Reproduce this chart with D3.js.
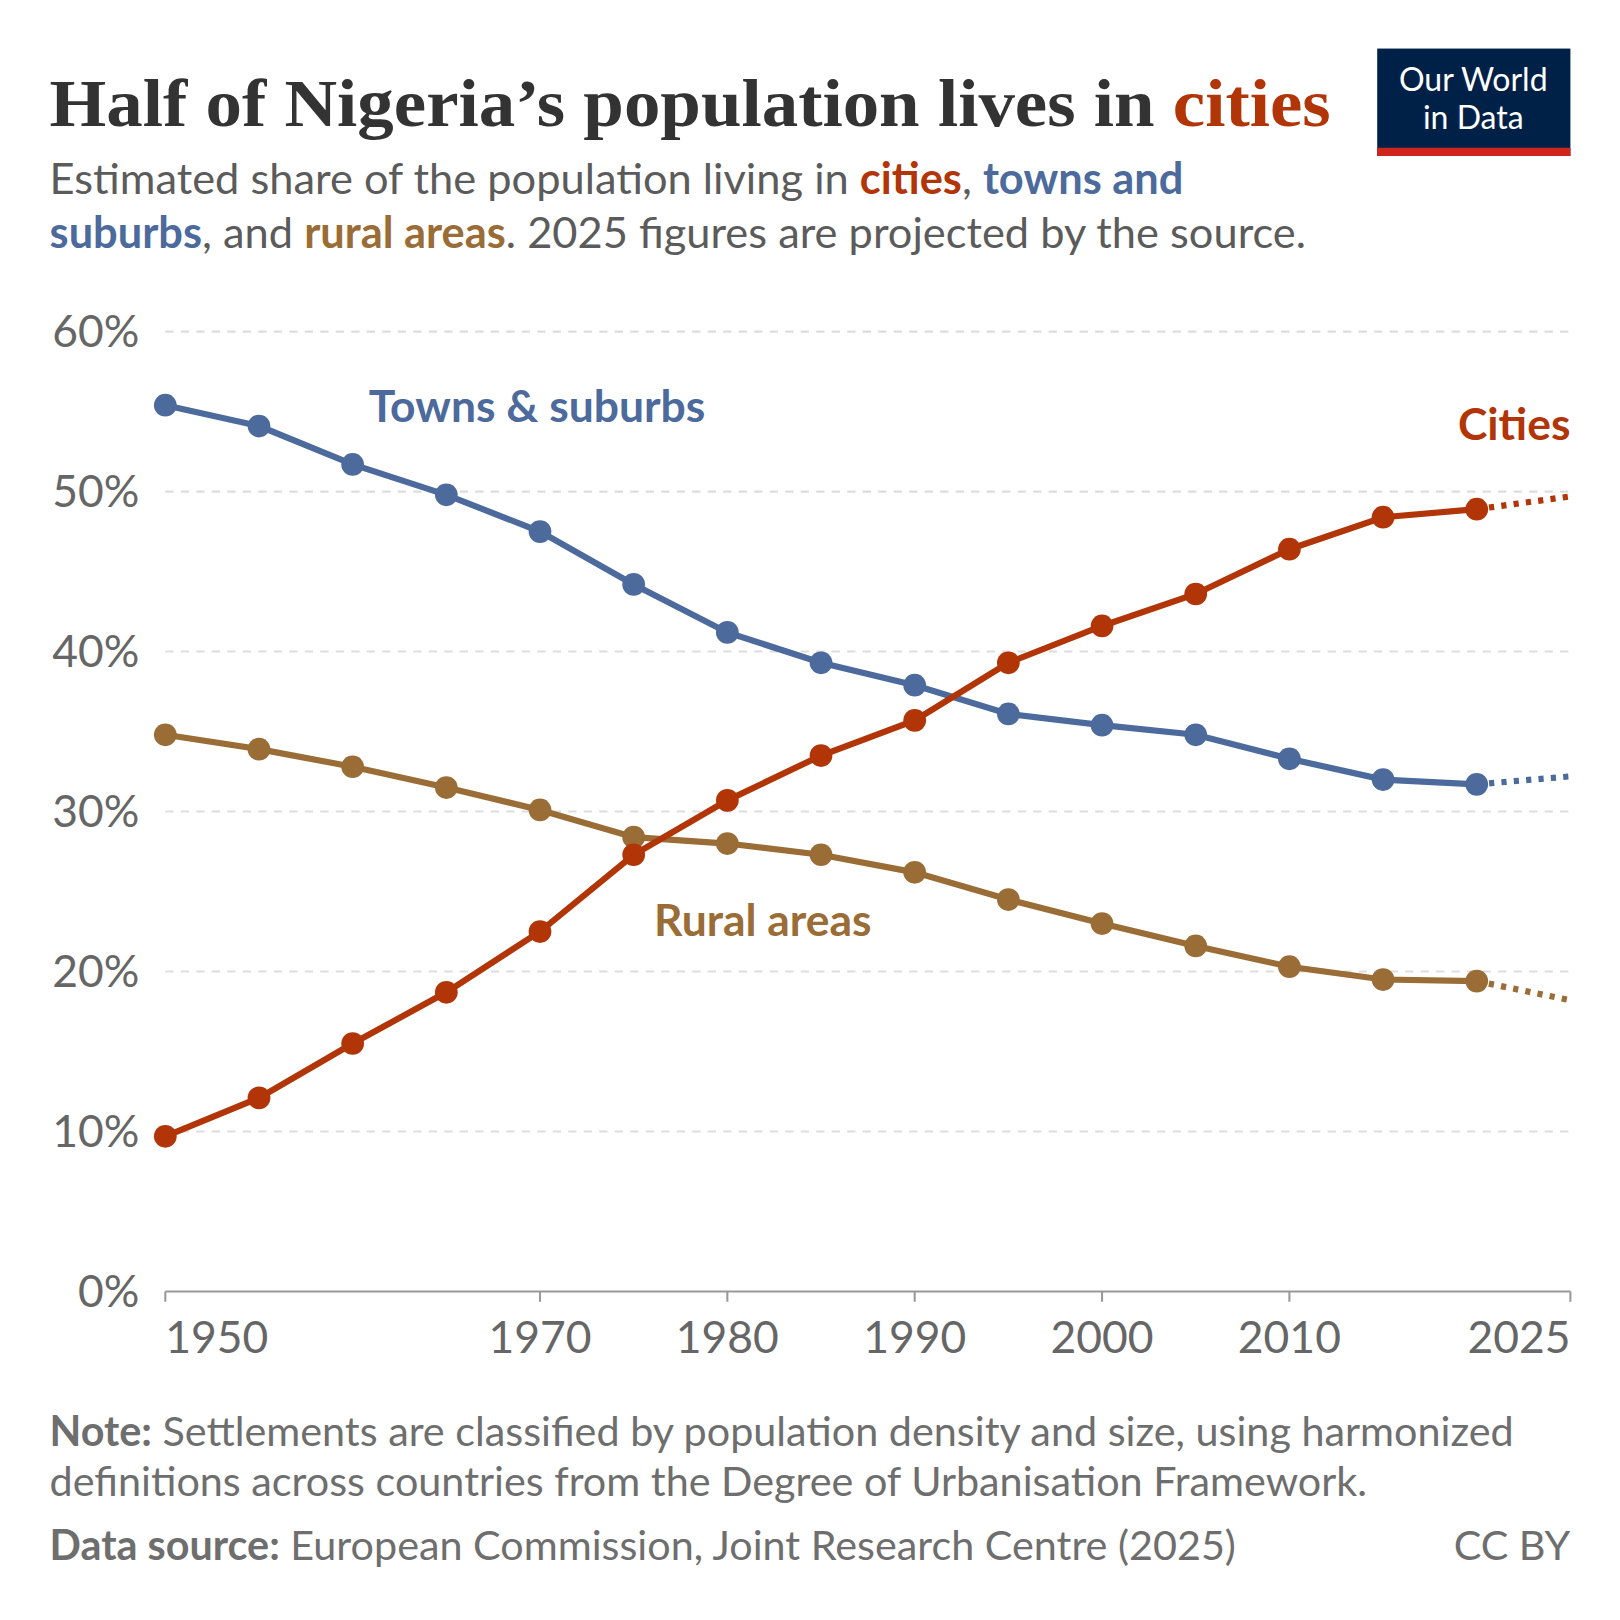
<!DOCTYPE html>
<meta charset="utf-8">
<style>
  html, body { margin: 0; padding: 0; background: #fff; }
  svg { display: block; font-family: Lato, sans-serif; }
</style>
<svg id="chart" width="1620" height="1620" viewBox="0 0 1568 1568"></svg>
<script src="https://d3js.org/d3.v7.min.js"></script>
<script>
  // data
  const years = [1950, 1955, 1960, 1965, 1970, 1975, 1980, 1985, 1990, 1995, 2000, 2005, 2010, 2015, 2020];
  const cities = [9.7, 12.1, 15.5, 18.7, 22.5, 27.3, 30.7, 33.5, 35.7, 39.3, 41.6, 43.6, 46.4, 48.4, 48.9];
  const towns = [55.4, 54.1, 51.7, 49.8, 47.5, 44.2, 41.2, 39.3, 37.9, 36.1, 35.4, 34.8, 33.3, 32.0, 31.7];
  const rural = [34.8, 33.9, 32.8, 31.5, 30.1, 28.4, 28.0, 27.3, 26.2, 24.5, 23.0, 21.6, 20.3, 19.5, 19.4];
  const projected = { cities: 49.7, towns: 32.2, rural: 18.2 }; // 2025
  const yTicks = [0, 10, 20, 30, 40, 50, 60];
  const xTicks = [1950, 1970, 1980, 1990, 2000, 2010, 2025];

  const svg = d3.select("#chart");
  const x = d3.scaleLinear().domain([1950, 2025]).range([160, 1520]);
  const y = d3.scaleLinear().domain([0, 60]).range([1250, 321]);

  // title + subtitle
  const title = svg.append("text").attr("x", 48).attr("y", 122)
    .attr("font-family", "'Liberation Serif', 'DejaVu Serif', serif").attr("font-weight", 700)
    .attr("font-size", 66).attr("fill", "#333")
    .attr("textLength", 1240).attr("lengthAdjust", "spacingAndGlyphs");
  title.append("tspan").text("Half of Nigeria’s population lives in ");
  title.append("tspan").attr("fill", "#b13507").text("cities");

  const sub1 = svg.append("text").attr("x", 48).attr("y", 188).attr("font-size", 42).attr("fill", "#5b5b5b");
  sub1.append("tspan").text("Estimated share of the population living in ");
  sub1.append("tspan").attr("fill", "#b13507").attr("font-weight", 700).text("cities");
  sub1.append("tspan").text(", ");
  sub1.append("tspan").attr("fill", "#4c6a9c").attr("font-weight", 700).text("towns and");
  const sub2 = svg.append("text").attr("x", 48).attr("y", 240).attr("font-size", 42).attr("fill", "#5b5b5b");
  sub2.append("tspan").attr("fill", "#4c6a9c").attr("font-weight", 700).text("suburbs");
  sub2.append("tspan").text(", and ");
  sub2.append("tspan").attr("fill", "#9a6c36").attr("font-weight", 700).text("rural areas");
  sub2.append("tspan").text(". 2025 figures are projected by the source.");

  // logo
  svg.append("rect").attr("x", 1333).attr("y", 47).attr("width", 187).attr("height", 104).attr("fill", "#002147");
  svg.append("rect").attr("x", 1333).attr("y", 143).attr("width", 187).attr("height", 8).attr("fill", "#ce261e");
  svg.append("text").attr("x", 1426).attr("y", 88).attr("text-anchor", "middle").attr("font-size", 31)
    .attr("fill", "#fff").text("Our World");
  svg.append("text").attr("x", 1426).attr("y", 125).attr("text-anchor", "middle").attr("font-size", 31)
    .attr("fill", "#fff").text("in Data");

  // grid + y labels
  yTicks.forEach(t => {
    if (t > 0) svg.append("line").attr("x1", 160).attr("x2", 1520).attr("y1", y(t)).attr("y2", y(t))
      .attr("stroke", "#ddd").attr("stroke-width", 2).attr("stroke-dasharray", "8,7");
    svg.append("text").attr("x", 135).attr("y", y(t) + 15).attr("text-anchor", "end")
      .attr("font-size", 43).attr("fill", "#666").text(t + "%");
  });

  // x axis
  svg.append("line").attr("x1", 160).attr("x2", 1520).attr("y1", 1250).attr("y2", 1250)
    .attr("stroke", "#999").attr("stroke-width", 2);
  xTicks.forEach(t => {
    svg.append("line").attr("x1", x(t)).attr("x2", x(t)).attr("y1", 1250).attr("y2", 1260)
      .attr("stroke", "#999").attr("stroke-width", 2);
    const anchor = t === 1950 ? "start" : t === 2025 ? "end" : "middle";
    svg.append("text").attr("x", t === 1950 ? 160 : x(t)).attr("y", 1310).attr("text-anchor", anchor)
      .attr("font-size", 43).attr("fill", "#666").text(t);
  });

  const line = d3.line().x(d => x(d[0])).y(d => y(d[1]));
  const series = [
    { key: "rural", vals: rural, color: "#9a6c36" },
    { key: "towns", vals: towns, color: "#4c6a9c" },
    { key: "cities", vals: cities, color: "#b13507" }
  ];
  series.forEach(s => {
    const pts = years.map((yr, i) => [yr, s.vals[i]]);
    svg.append("path").attr("d", line(pts)).attr("fill", "none").attr("stroke", s.color).attr("stroke-width", 6);
    svg.append("path").attr("d", line([pts[pts.length - 1], [2025, projected[s.key]]]))
      .attr("fill", "none").attr("stroke", s.color).attr("stroke-width", 6).attr("stroke-dasharray", "5,7");
    svg.selectAll(null).data(pts).enter().append("circle")
      .attr("cx", d => x(d[0])).attr("cy", d => y(d[1])).attr("r", 11).attr("fill", s.color);
  });

  // labels
  svg.append("text").attr("x", 357).attr("y", 408).attr("font-size", 43).attr("font-weight", 700)
    .attr("fill", "#4c6a9c").text("Towns & suburbs");
  svg.append("text").attr("x", 1520).attr("y", 426).attr("text-anchor", "end").attr("font-size", 43)
    .attr("font-weight", 700).attr("fill", "#b13507").text("Cities");
  svg.append("text").attr("x", 633).attr("y", 906).attr("font-size", 43).attr("font-weight", 700)
    .attr("fill", "#9a6c36").text("Rural areas");

  // footer
  const n1 = svg.append("text").attr("x", 48).attr("y", 1400).attr("font-size", 40).attr("fill", "#6e6e6e");
  n1.append("tspan").attr("font-weight", 700).text("Note:");
  n1.append("tspan").text(" Settlements are classified by population density and size, using harmonized");
  svg.append("text").attr("x", 48).attr("y", 1448).attr("font-size", 40).attr("fill", "#6e6e6e")
    .text("definitions across countries from the Degree of Urbanisation Framework.");
  const n3 = svg.append("text").attr("x", 48).attr("y", 1510).attr("font-size", 40).attr("fill", "#6e6e6e");
  n3.append("tspan").attr("font-weight", 700).text("Data source:");
  n3.append("tspan").text(" European Commission, Joint Research Centre (2025)");
  svg.append("text").attr("x", 1520).attr("y", 1510).attr("text-anchor", "end").attr("font-size", 40)
    .attr("fill", "#6e6e6e").text("CC BY");
</script>
